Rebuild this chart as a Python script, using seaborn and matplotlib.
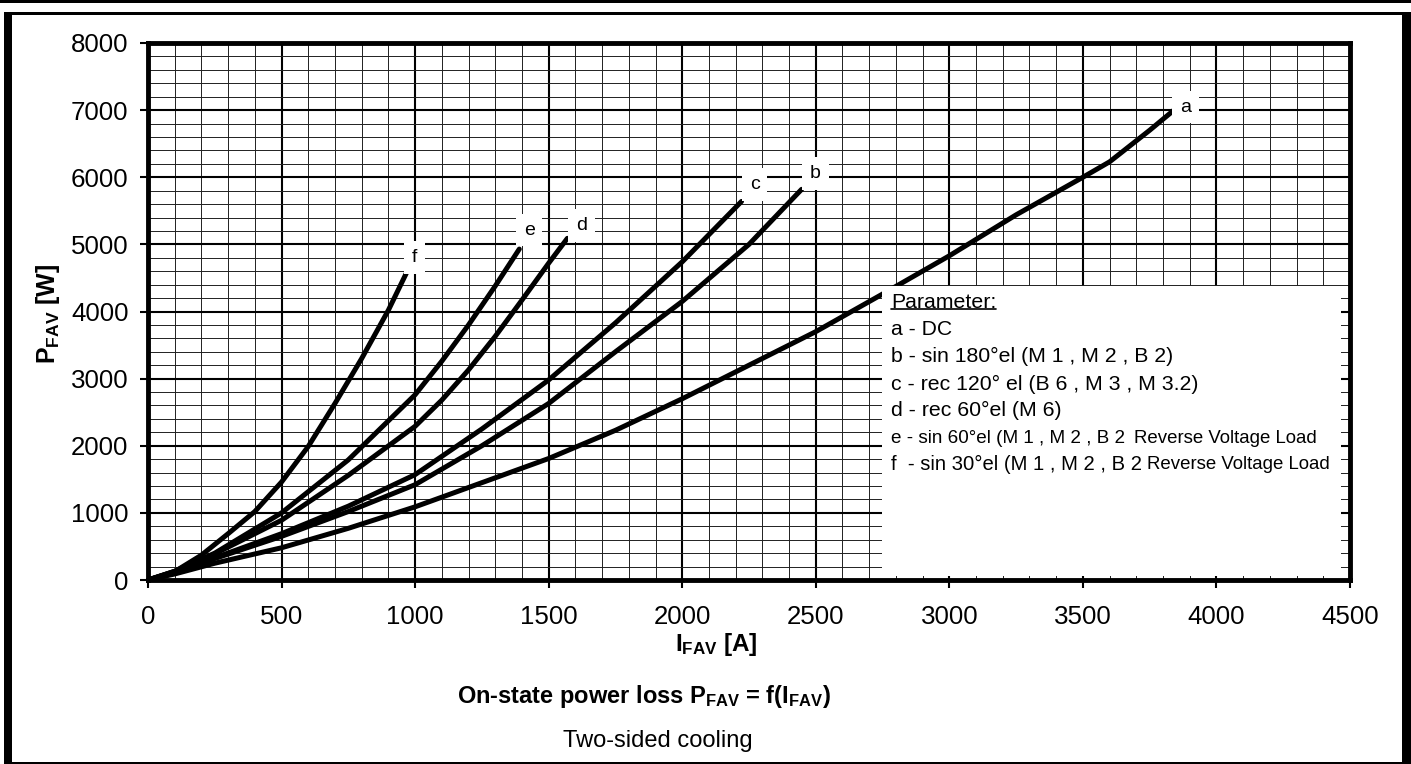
import numpy as np
import pandas as pd
import matplotlib
matplotlib.use("Agg")
import matplotlib.pyplot as plt
import seaborn as sns
from matplotlib.patches import Rectangle
from matplotlib.lines import Line2D
from matplotlib.ticker import MultipleLocator

# ---- data ----
a_I = [0, 100, 250, 500, 750, 1000, 1250, 1500, 1750, 2000, 2250, 2500, 2750, 3000, 3250, 3500, 3600, 3750, 3850]
a_P = [0, 90, 250, 480, 770, 1090, 1450, 1810, 2230, 2700, 3200, 3700, 4260, 4830, 5440, 6000, 6230, 6700, 7030]

b_I = [0, 100, 250, 500, 750, 1000, 1250, 1500, 1750, 2000, 2250, 2447]
b_P = [0, 110, 320, 650, 1020, 1420, 2000, 2630, 3400, 4150, 5000, 5820]

c_I = [0, 100, 250, 500, 750, 1000, 1250, 1500, 1750, 2000, 2222]
c_P = [0, 115, 330, 690, 1100, 1570, 2250, 2980, 3830, 4740, 5640]

d_I = [0, 100, 250, 500, 750, 1000, 1100, 1200, 1300, 1400, 1500, 1570]
d_P = [0, 130, 390, 890, 1560, 2290, 2680, 3130, 3630, 4170, 4720, 5090]

e_I = [0, 100, 250, 500, 750, 1000, 1100, 1200, 1300, 1390]
e_P = [0, 130, 400, 1000, 1790, 2760, 3260, 3800, 4380, 4930]

f_I = [0, 100, 200, 300, 400, 500, 600, 700, 800, 900, 967]
f_P = [0, 125, 370, 690, 1020, 1460, 1990, 2630, 3300, 4020, 4570]

curve_names = ["a", "b", "c", "d", "e", "f"]
legend_lines = [
    "a - DC",
    "b - sin 180\u00b0el (M 1 , M 2 , B 2)",
    "c - rec 120\u00b0 el (B 6 , M 3 , M 3.2)",
    "d - rec 60\u00b0el (M 6)",
    "e - sin 60\u00b0el (M 1 , M 2 , B 2",
    "f  - sin 30\u00b0el (M 1 , M 2 , B 2",
]
x_ticks = [0, 500, 1000, 1500, 2000, 2500, 3000, 3500, 4000, 4500]
y_ticks = [0, 1000, 2000, 3000, 4000, 5000, 6000, 7000, 8000]

series = {"a": (a_I, a_P), "b": (b_I, b_P), "c": (c_I, c_P),
          "d": (d_I, d_P), "e": (e_I, e_P), "f": (f_I, f_P)}
df = pd.concat([pd.DataFrame({"I": v[0], "P": v[1], "curve": k}) for k, v in series.items()],
               ignore_index=True)

# ---- style ----
sns.set_theme(style="white")
plt.rcParams["font.family"] = ["Liberation Sans", "DejaVu Sans"]
plt.rcParams["mathtext.fontset"] = "custom"
plt.rcParams["mathtext.rm"] = "Liberation Sans"
plt.rcParams["mathtext.it"] = "Liberation Sans:italic"
plt.rcParams["mathtext.bf"] = "Liberation Sans:bold"

W, H = 1411, 764
fig = plt.figure(figsize=(W / 100, H / 100), dpi=100)
fig.patch.set_facecolor("white")
ax = fig.add_axes([148 / W, (H - 580) / H, 1202 / W, 537 / H])

sns.lineplot(data=df, x="I", y="P", units="curve", estimator=None, sort=False,
             color="black", lw=3.6, legend=False, ax=ax, zorder=2)

ax.set_xlim(0, 4500)
ax.set_ylim(0, 8000)
ax.set_xticks(x_ticks)
ax.set_yticks(y_ticks)
ax.xaxis.set_minor_locator(MultipleLocator(100))
ax.yaxis.set_minor_locator(MultipleLocator(200))
ax.grid(which="major", color="black", lw=1.5)
ax.grid(which="minor", color="#202020", lw=0.7)
ax.set_axisbelow(True)
ax.tick_params(which="major", bottom=True, left=True, direction="out", length=6,
               width=1.5, color="black", labelsize=18.6, labelcolor="black")
ax.tick_params(axis="x", which="major", pad=12)
ax.tick_params(axis="y", which="major", pad=8)
ax.tick_params(which="minor", length=0)
for s in ax.spines.values():
    s.set_linewidth(3.5)
    s.set_color("black")

ax.set_xlabel(r"$\mathbf{I_{FAV}\ [A]}$", fontsize=17.5, color="black")
ax.set_ylabel(r"$\mathbf{P_{FAV}\ [W]}$", fontsize=18, color="black")
ax.xaxis.set_label_coords((716 - 148) / 1202, (580 - 631) / 537)
ax.yaxis.set_label_coords((62 - 148) / 1202, (580 - 314) / 537)

# curve labels
offsets = {"a": (9, 1), "b": (14, 16), "c": (13, 17), "d": (14, 13), "e": (10, 19), "f": (8, 16)}
for k in curve_names:
    I, P = series[k]
    ax.annotate(k, xy=(I[-1], P[-1]), xytext=offsets[k], textcoords="offset pixels",
                ha="center", va="center", fontsize=14, color="black", zorder=5,
                bbox=dict(boxstyle="square,pad=0.4", fc="white", ec="none"))

# parameter box
ax.add_patch(Rectangle((0.611, 0.008), 0.3815, 0.539, transform=ax.transAxes,
                       facecolor="white", edgecolor="none", zorder=3))
tx = 0.618
ptxt = ax.text(tx, 0.516, "Parameter:", transform=ax.transAxes,
               fontsize=15.3, va="center", ha="left", zorder=4, color="black")
ys = [0.467, 0.417, 0.365, 0.315, 0.264, 0.216]
sizes = [15.2, 15.3, 15.3, 15.3, 13.6, 14.6]
for yy, line, fs in zip(ys, legend_lines, sizes):
    ax.text(tx, yy, line, transform=ax.transAxes, fontsize=fs, va="center", ha="left",
            zorder=4, color="black")
ax.text((1134 - 148) / 1202, 0.264, "Reverse Voltage Load", transform=ax.transAxes,
        fontsize=13.4, va="center", ha="left", zorder=4, color="black")
ax.text((1147 - 148) / 1202, 0.216, "Reverse Voltage Load", transform=ax.transAxes,
        fontsize=13.4, va="center", ha="left", zorder=4, color="black")

# titles below
fig.text(644 / W, 1 - 696 / H, r"On-state power loss P$_{\mathbf{FAV}}$ = f(I$_{\mathbf{FAV}}$)",
         ha="center", va="center", fontsize=17, fontweight="bold", color="black")
fig.text(658 / W, 1 - 741 / H, "Two-sided cooling", ha="center", va="center",
         fontsize=17, color="black")

# figure frame
def px_rect(x0, y0, x1, y1):
    fig.add_artist(Rectangle((x0 / W, 1 - y1 / H), (x1 - x0) / W, (y1 - y0) / H,
                             transform=fig.transFigure, facecolor="black", edgecolor="none"))

px_rect(0, 0, W, 3)
px_rect(4, 12, W, 15)
px_rect(4, 12, 12, H)
px_rect(1402, 12, W, H)
px_rect(4, 762, W, H)

# underline "Parameter:"
fig.canvas.draw()
bb = ptxt.get_window_extent(renderer=fig.canvas.get_renderer())
uy = bb.y0 + 3
fig.add_artist(Line2D([bb.x0 / W, bb.x1 / W], [uy / H, uy / H], transform=fig.transFigure,
                      color="black", lw=1.2, zorder=6))

fig.savefig("out.png", dpi=100)
